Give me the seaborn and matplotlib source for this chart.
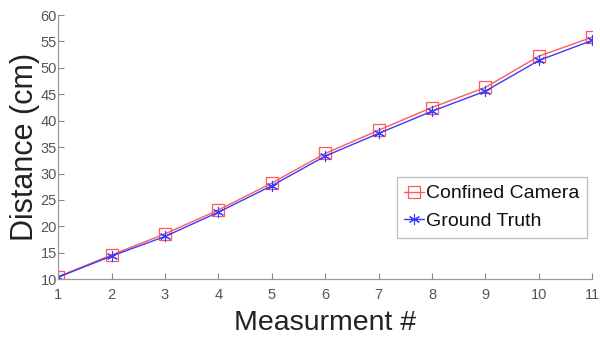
import pandas as pd
import numpy as np
import matplotlib
matplotlib.use('Agg')
import matplotlib.pyplot as plt
import seaborn as sns

# Data
measurement = [1, 2, 3, 4, 5, 6, 7, 8, 9, 10, 11]
confined_camera = [10.5, 14.6, 18.6, 23.1, 28.2, 33.8, 38.2, 42.5, 46.3, 52.2, 55.8]
ground_truth = [10.4, 14.4, 18.1, 22.7, 27.7, 33.3, 37.6, 41.8, 45.6, 51.4, 55.2]

sns.set_style('white')
plt.rcParams['font.family'] = ['Liberation Sans', 'DejaVu Sans']

fig = plt.figure(figsize=(6, 3.41), dpi=100)
ax = fig.add_axes([0.097, 0.181, 0.89, 0.775])

# Confined camera: red line, open squares
sns.lineplot(x=measurement, y=confined_camera, color='#ff5a5a', linewidth=1.0,
             marker='s', markersize=8, markerfacecolor='none',
             markeredgecolor='#ff5a5a', markeredgewidth=0.9,
             label='Confined Camera', ax=ax)
# Ground truth: blue line, asterisks
sns.lineplot(x=measurement, y=ground_truth, color='#3a3aff', linewidth=1.0,
             marker=(6, 2, 0), markersize=8, markeredgecolor='#3a3aff',
             markeredgewidth=0.8, label='Ground Truth', ax=ax)

ax.set_xlim(1, 11)
ax.set_ylim(10, 60)
ax.set_xticks(measurement)
ax.set_yticks(np.arange(10, 61, 5))
ax.tick_params(axis='both', direction='in', length=4, width=0.8,
               bottom=True, left=True,
               colors='#888888', labelcolor='#555555', labelsize=10.5)
ax.tick_params(axis='x', pad=6)
ax.tick_params(axis='y', pad=1)
for side in ['top', 'right']:
    ax.spines[side].set_visible(False)
for side in ['left', 'bottom']:
    ax.spines[side].set_color('#999999')
    ax.spines[side].set_linewidth(0.9)

ax.set_xlabel('Measurment #', fontsize=20.5, color='#222222', labelpad=6)
ax.set_ylabel('Distance (cm)', fontsize=22, color='#222222', labelpad=0)

leg = ax.legend(loc='lower right', bbox_to_anchor=(0.99, 0.158),
                fontsize=14, frameon=True, fancybox=False, handlelength=1.0,
                handletextpad=0.1, borderpad=0.4, labelspacing=0.5, borderaxespad=0)
leg.get_frame().set_edgecolor('#aaaaaa')
leg.get_frame().set_linewidth(0.9)
for t in leg.get_texts():
    t.set_color('#111111')

fig.savefig('out.png', dpi=100)
